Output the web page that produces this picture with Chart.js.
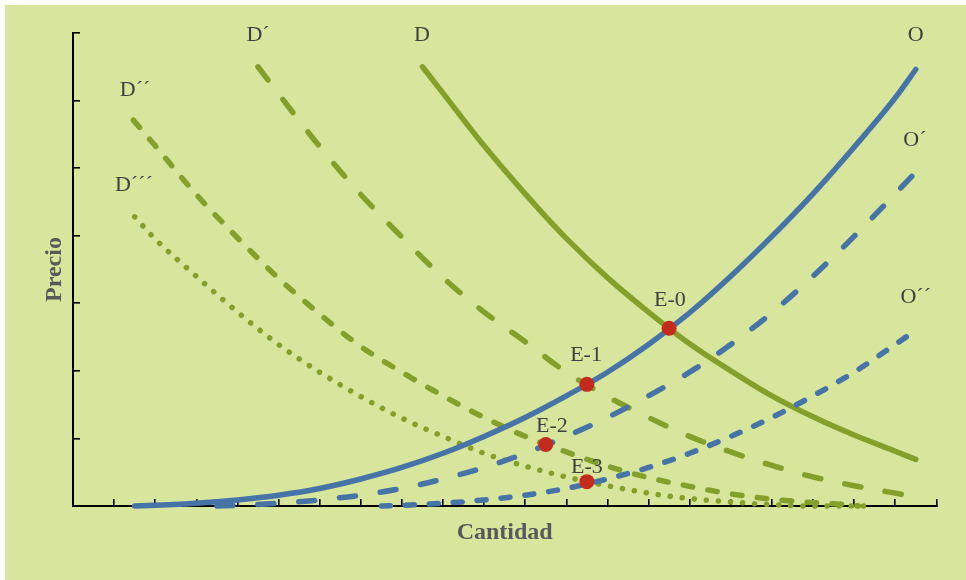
<!DOCTYPE html>
<html><head><meta charset="utf-8">
<script src="https://cdn.jsdelivr.net/npm/chart.js@4/dist/chart.umd.min.js"></script>
<style>html,body{margin:0;padding:0;background:#fff;}canvas{display:block;}</style>
</head><body>
<canvas id="c" width="966" height="580"></canvas>
<script>
// Demand curves
const dX   = [8.5, 9, 10, 11, 12, 13, 14, 15, 16, 17, 18, 19, 20, 20.5];
const dY   = [6.50, 6.11, 5.33, 4.62, 3.96, 3.38, 2.87, 2.40, 2.00, 1.63, 1.32, 1.05, 0.81, 0.69];
const d1X  = [4.5, 5, 6, 7, 8, 9, 10, 11, 12, 13, 14, 15, 16, 17, 18, 19, 20, 20.5];
const d1Y  = [6.50, 6.10, 5.32, 4.61, 3.98, 3.38, 2.87, 2.43, 1.98, 1.62, 1.31, 1.03, 0.80, 0.60, 0.43, 0.30, 0.19, 0.14];
const d2X  = [1.47, 2, 3, 4, 5, 6, 7, 8, 9, 10, 11, 12, 13, 14, 15, 16, 17, 18, 19, 19.1];
const d2Y  = [5.71, 5.33, 4.61, 3.97, 3.37, 2.84, 2.36, 1.98, 1.63, 1.31, 1.03, 0.80, 0.59, 0.42, 0.29, 0.18, 0.10, 0.05, 0.01, 0];
const d3X  = [1.5, 2, 3, 4, 5, 6, 7, 8, 9, 10, 11, 12, 13, 14, 15, 16, 17, 18, 19, 19.5];
const d3Y  = [4.28, 3.95, 3.40, 2.87, 2.39, 1.98, 1.62, 1.30, 1.03, 0.78, 0.59, 0.43, 0.30, 0.19, 0.11, 0.06, 0.02, 0, 0, 0];
// Supply curves
const oX   = [1.5, 2, 3, 4, 5, 6, 7, 8, 9, 10, 11, 12, 13, 14, 15, 16, 17, 18, 19, 20, 20.5];
const oY   = [0, 0.01, 0.04, 0.09, 0.16, 0.26, 0.40, 0.57, 0.78, 1.03, 1.31, 1.63, 1.98, 2.39, 2.86, 3.40, 3.99, 4.62, 5.31, 6.04, 6.46];
const o1X  = [3.5, 4, 5, 6, 7, 8, 9, 10, 11, 12, 13, 14, 15, 16, 17, 18, 19, 20, 20.5];
const o1Y  = [0, 0.01, 0.04, 0.09, 0.16, 0.26, 0.40, 0.57, 0.78, 1.03, 1.31, 1.63, 1.98, 2.39, 2.86, 3.40, 3.99, 4.62, 4.94];
const o2X  = [7.5, 8, 9, 10, 11, 12, 13, 14, 15, 16, 17, 18, 19, 20, 20.5];
const o2Y  = [0, 0.01, 0.04, 0.09, 0.16, 0.26, 0.40, 0.57, 0.78, 1.03, 1.31, 1.63, 1.98, 2.39, 2.60];
// Equilibrium points
const eqX  = [14.5, 12.5, 11.5, 12.5];
const eqY  = [2.63, 1.80, 0.91, 0.36];
// Curve / point labels (data coordinates)
const labelText = ['D´', 'D', 'O', 'D´´', 'D´´´', 'O´', 'O´´', 'E-0', 'E-1', 'E-2', 'E-3'];
const labelX    = [4.50, 8.49, 20.5, 1.51, 1.48, 20.48, 20.5, 14.52, 12.48, 11.65, 12.5];
const labelY    = [6.97, 6.97, 6.97, 6.16, 4.75, 5.42, 3.09, 3.05, 2.23, 1.18, 0.58];
// Axis ranges
const xMin = 0, xMax = 21, yMin = 0, yMax = 7;

const GREEN = '#849f2a', BLUE = '#4774a6', RED = '#c42a1d';
const pts = (xs, ys) => xs.map((x, i) => ({x: x, y: ys[i]}));
const line = (label, xs, ys, color, dash, order) => ({
  label, data: pts(xs, ys), borderColor: color, borderWidth: 5.5, borderDash: dash,
  borderCapStyle: 'round', borderJoinStyle: 'round', pointRadius: 0, fill: false,
  cubicInterpolationMode: 'monotone', clip: false, order
});

const bgPlugin = {
  id: 'bg',
  beforeDraw(chart) {
    const c = chart.ctx;
    c.save();
    c.fillStyle = '#ffffff'; c.fillRect(0, 0, chart.width, chart.height);
    c.fillStyle = '#d7e59d'; c.fillRect(5, 5, chart.width - 5, chart.height - 5);
    c.restore();
  }
};
const labelPlugin = {
  id: 'labels',
  afterDatasetsDraw(chart) {
    const c = chart.ctx, xs = chart.scales.x, ys = chart.scales.y;
    c.save();
    c.font = '22px "Liberation Serif", "DejaVu Serif", serif';
    c.fillStyle = '#404040'; c.textAlign = 'center'; c.textBaseline = 'middle';
    labelText.forEach((t, i) => c.fillText(t, xs.getPixelForValue(labelX[i]), ys.getPixelForValue(labelY[i])));
    c.restore();
  }
};

const titleFont = {family: '"Liberation Serif", "DejaVu Serif", serif', size: 24, weight: 'bold'};
new Chart(document.getElementById('c'), {
  type: 'line',
  data: {
    datasets: [
      {label: 'E', data: pts(eqX, eqY), showLine: false, pointRadius: 7.5, pointHoverRadius: 7.5,
       pointBackgroundColor: RED, pointBorderWidth: 0, clip: false, order: 0},
      line('O', oX, oY, BLUE, [], 1),
      line('O´', o1X, o1Y, BLUE, [16, 25], 2),
      line('O´´', o2X, o2Y, BLUE, [9, 15], 3),
      line('D', dX, dY, GREEN, [], 4),
      line('D´', d1X, d1Y, GREEN, [16.5, 24.5], 5),
      line('D´´', d2X, d2Y, GREEN, [9.5, 15.5], 6),
      line('D´´´', d3X, d3Y, GREEN, [0.1, 12], 7)
    ]
  },
  options: {
    responsive: false, animation: false, devicePixelRatio: 1,
    layout: {padding: {left: 0, top: 33, right: 29.7, bottom: 0}},
    plugins: {legend: {display: false}, tooltip: {enabled: false}},
    events: [],
    scales: {
      x: {
        type: 'linear', min: xMin, max: xMax,
        ticks: {stepSize: 1, display: false},
        grid: {drawOnChartArea: false, drawTicks: true, tickLength: -7, color: '#000', lineWidth: 1.6},
        border: {display: true, color: '#000', width: 2},
        title: {display: true, text: 'Cantidad', color: '#595959', font: titleFont, padding: {top: 0, bottom: 33}},
        afterFit(s) { s.height = 74; }
      },
      y: {
        type: 'linear', min: yMin, max: yMax,
        ticks: {stepSize: 1, display: false},
        grid: {drawOnChartArea: false, drawTicks: true, tickLength: -7, color: '#000', lineWidth: 1.6},
        border: {display: true, color: '#000', width: 2},
        title: {display: true, text: 'Precio', color: '#595959', font: titleFont, padding: {top: 40, bottom: 0}},
        afterFit(s) { s.width = 73; }
      }
    }
  },
  plugins: [bgPlugin, labelPlugin]
});
</script>
</body></html>
